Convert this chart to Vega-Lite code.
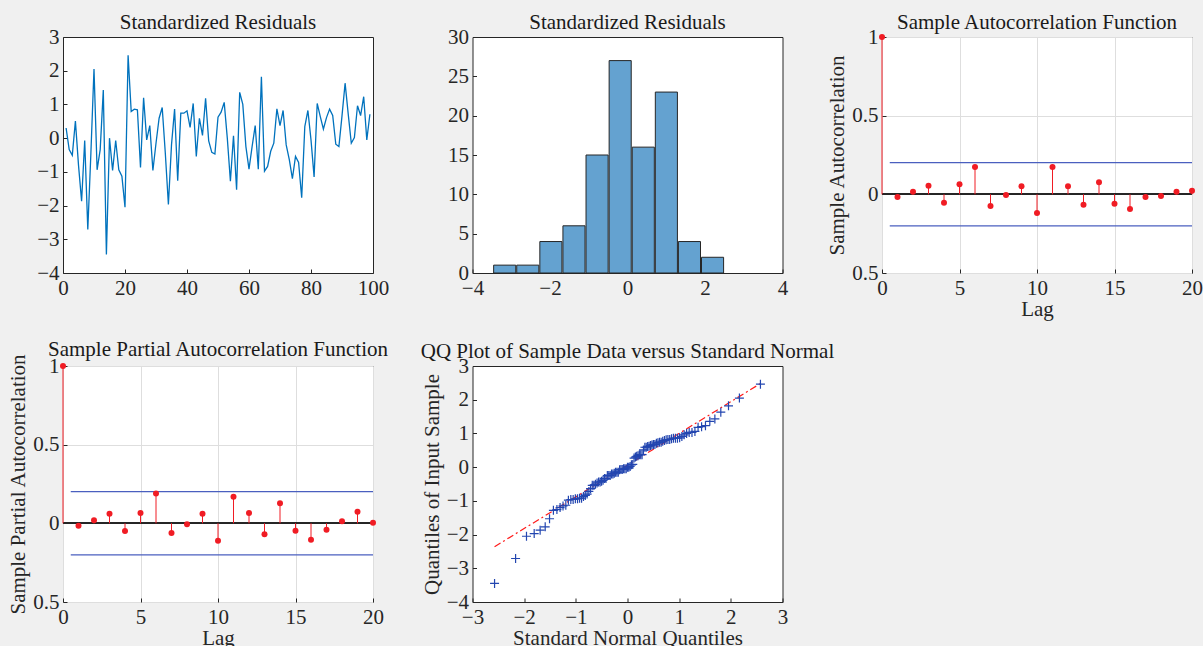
{
  "$schema": "https://vega.github.io/schema/vega-lite/v6.json",
  "background": "#f0f0f0",
  "padding": {"left": 7, "top": 11, "right": 0, "bottom": 0},
  "datasets": {
    "res": [
      {"t":1,"v":0.30},{"t":2,"v":-0.34},{"t":3,"v":-0.51},{"t":4,"v":0.51},{"t":5,"v":-0.80},
      {"t":6,"v":-1.87},{"t":7,"v":-0.07},{"t":8,"v":-2.71},{"t":9,"v":-0.44},{"t":10,"v":2.05},
      {"t":11,"v":-0.94},{"t":12,"v":-0.34},{"t":13,"v":1.43},{"t":14,"v":-3.45},{"t":15,"v":0.00},
      {"t":16,"v":-0.96},{"t":17,"v":-0.07},{"t":18,"v":-0.94},{"t":19,"v":-1.13},{"t":20,"v":-2.05},
      {"t":21,"v":2.46},{"t":22,"v":0.79},{"t":23,"v":0.86},{"t":24,"v":0.84},{"t":25,"v":-0.87},
      {"t":26,"v":1.20},{"t":27,"v":-0.05},{"t":28,"v":0.37},{"t":29,"v":-0.96},{"t":30,"v":-0.15},
      {"t":31,"v":0.59},{"t":32,"v":0.91},{"t":33,"v":-0.44},{"t":34,"v":-1.97},{"t":35,"v":-0.20},
      {"t":36,"v":0.86},{"t":37,"v":-1.26},{"t":38,"v":0.74},{"t":39,"v":0.74},{"t":40,"v":0.81},
      {"t":41,"v":0.32},{"t":42,"v":1.03},{"t":43,"v":-0.54},{"t":44,"v":0.59},{"t":45,"v":0.08},
      {"t":46,"v":1.18},{"t":47,"v":-0.08},{"t":48,"v":-0.42},{"t":49,"v":-0.47},{"t":50,"v":0.62},
      {"t":51,"v":0.77},{"t":52,"v":1.06},{"t":53,"v":0.00},{"t":54,"v":-1.28},{"t":55,"v":0.07},
      {"t":56,"v":-1.53},{"t":57,"v":1.36},{"t":58,"v":1.00},{"t":59,"v":-0.25},{"t":60,"v":-0.92},
      {"t":61,"v":-0.25},{"t":62,"v":0.37},{"t":63,"v":-0.92},{"t":64,"v":1.82},{"t":65,"v":-0.98},
      {"t":66,"v":-0.84},{"t":67,"v":-0.39},{"t":68,"v":-0.15},{"t":69,"v":0.87},{"t":70,"v":0.37},
      {"t":71,"v":0.82},{"t":72,"v":-0.20},{"t":73,"v":-0.64},{"t":74,"v":-1.20},{"t":75,"v":-0.54},
      {"t":76,"v":-0.72},{"t":77,"v":-1.77},{"t":78,"v":0.34},{"t":79,"v":0.82},{"t":80,"v":-0.05},
      {"t":81,"v":-1.15},{"t":82,"v":1.03},{"t":83,"v":0.64},{"t":84,"v":0.27},{"t":85,"v":0.61},
      {"t":86,"v":0.86},{"t":87,"v":0.67},{"t":88,"v":-0.18},{"t":89,"v":-0.25},{"t":90,"v":0.66},
      {"t":91,"v":1.63},{"t":92,"v":0.72},{"t":93,"v":-0.15},{"t":94,"v":0.02},{"t":95,"v":0.96},
      {"t":96,"v":0.67},{"t":97,"v":1.23},{"t":98,"v":-0.05},{"t":99,"v":0.71}
    ],
    "acf": [
      {"lag":0,"r":1},{"lag":1,"r":-0.017},{"lag":2,"r":0.017},{"lag":3,"r":0.055},{"lag":4,"r":-0.053},
      {"lag":5,"r":0.064},{"lag":6,"r":0.174},{"lag":7,"r":-0.074},{"lag":8,"r":-0.004},{"lag":9,"r":0.051},
      {"lag":10,"r":-0.119},{"lag":11,"r":0.174},{"lag":12,"r":0.051},{"lag":13,"r":-0.066},{"lag":14,"r":0.077},
      {"lag":15,"r":-0.06},{"lag":16,"r":-0.094},{"lag":17,"r":-0.017},{"lag":18,"r":-0.011},{"lag":19,"r":0.017},
      {"lag":20,"r":0.023}
    ],
    "pacf": [
      {"lag":0,"r":1},{"lag":1,"r":-0.015},{"lag":2,"r":0.019},{"lag":3,"r":0.061},{"lag":4,"r":-0.049},
      {"lag":5,"r":0.066},{"lag":6,"r":0.189},{"lag":7,"r":-0.061},{"lag":8,"r":-0.006},{"lag":9,"r":0.061},
      {"lag":10,"r":-0.110},{"lag":11,"r":0.169},{"lag":12,"r":0.066},{"lag":13,"r":-0.070},{"lag":14,"r":0.127},
      {"lag":15,"r":-0.047},{"lag":16,"r":-0.104},{"lag":17,"r":-0.040},{"lag":18,"r":0.013},{"lag":19,"r":0.074},
      {"lag":20,"r":0.004}
    ],
    "bounds": [
      {"x0":0.5,"x1":20,"b":0.201},{"x0":0.5,"x1":20,"b":-0.201}
    ],
    "qq": [
      {"q":-2.573,"s":-3.45},{"q":-2.166,"s":-2.71},{"q":-1.955,"s":-2.05},{"q":-1.806,"s":-1.97},{"q":-1.691,"s":-1.87},
      {"q":-1.593,"s":-1.77},{"q":-1.509,"s":-1.53},{"q":-1.434,"s":-1.28},{"q":-1.366,"s":-1.26},{"q":-1.305,"s":-1.20},
      {"q":-1.248,"s":-1.15},{"q":-1.194,"s":-1.13},{"q":-1.144,"s":-0.98},{"q":-1.097,"s":-0.96},{"q":-1.052,"s":-0.96},
      {"q":-1.009,"s":-0.94},{"q":-0.967,"s":-0.94},{"q":-0.928,"s":-0.92},{"q":-0.889,"s":-0.92},{"q":-0.852,"s":-0.87},
      {"q":-0.817,"s":-0.84},{"q":-0.782,"s":-0.80},{"q":-0.748,"s":-0.72},{"q":-0.715,"s":-0.64},{"q":-0.682,"s":-0.54},
      {"q":-0.651,"s":-0.54},{"q":-0.620,"s":-0.51},{"q":-0.589,"s":-0.47},{"q":-0.559,"s":-0.44},{"q":-0.530,"s":-0.44},
      {"q":-0.501,"s":-0.42},{"q":-0.473,"s":-0.39},{"q":-0.445,"s":-0.34},{"q":-0.417,"s":-0.34},{"q":-0.390,"s":-0.25},
      {"q":-0.362,"s":-0.25},{"q":-0.336,"s":-0.25},{"q":-0.309,"s":-0.20},{"q":-0.282,"s":-0.20},{"q":-0.256,"s":-0.18},
      {"q":-0.230,"s":-0.15},{"q":-0.204,"s":-0.15},{"q":-0.178,"s":-0.15},{"q":-0.153,"s":-0.08},{"q":-0.127,"s":-0.07},
      {"q":-0.102,"s":-0.07},{"q":-0.076,"s":-0.05},{"q":-0.051,"s":-0.05},{"q":-0.025,"s":-0.05},{"q":0.0,"s":0.00},
      {"q":0.025,"s":0.00},{"q":0.051,"s":0.02},{"q":0.076,"s":0.07},{"q":0.102,"s":0.08},{"q":0.127,"s":0.27},
      {"q":0.153,"s":0.30},{"q":0.178,"s":0.32},{"q":0.204,"s":0.34},{"q":0.230,"s":0.37},{"q":0.256,"s":0.37},
      {"q":0.282,"s":0.37},{"q":0.309,"s":0.51},{"q":0.336,"s":0.59},{"q":0.362,"s":0.59},{"q":0.390,"s":0.61},
      {"q":0.417,"s":0.62},{"q":0.445,"s":0.64},{"q":0.473,"s":0.66},{"q":0.501,"s":0.67},{"q":0.530,"s":0.67},
      {"q":0.559,"s":0.71},{"q":0.589,"s":0.72},{"q":0.620,"s":0.74},{"q":0.651,"s":0.74},{"q":0.682,"s":0.77},
      {"q":0.715,"s":0.79},{"q":0.748,"s":0.81},{"q":0.782,"s":0.82},{"q":0.817,"s":0.82},{"q":0.852,"s":0.84},
      {"q":0.889,"s":0.86},{"q":0.928,"s":0.86},{"q":0.967,"s":0.86},{"q":1.009,"s":0.87},{"q":1.052,"s":0.91},
      {"q":1.097,"s":0.96},{"q":1.144,"s":1.00},{"q":1.194,"s":1.03},{"q":1.248,"s":1.03},{"q":1.305,"s":1.06},
      {"q":1.366,"s":1.18},{"q":1.434,"s":1.20},{"q":1.509,"s":1.23},{"q":1.593,"s":1.36},{"q":1.691,"s":1.43},
      {"q":1.806,"s":1.63},{"q":1.955,"s":1.82},{"q":2.166,"s":2.05},{"q":2.573,"s":2.46}
    ],
    "qqline": [
      {"q":-2.573,"s":-2.36},{"q":2.573,"s":2.48}
    ]
  },
  "columns": 3,
  "spacing": {"row": 93, "column": 99.5},
  "bounds": "flush",
  "align": "all",
  "concat": [
    {
      "width": 310, "height": 236,
      "title": "Standardized Residuals",
      "data": {"name": "res"},
      "mark": {"type": "line", "color": "#0072BD", "strokeWidth": 1.3},
      "encoding": {
        "x": {"field": "t", "type": "quantitative", "scale": {"domain": [0, 100], "nice": false}, "axis": {"values": [0,20,40,60,80,100], "title": null}},
        "y": {"field": "v", "type": "quantitative", "scale": {"domain": [-4, 3], "nice": false}, "axis": {"values": [-4,-3,-2,-1,0,1,2,3], "title": null}}
      }
    },
    {
      "width": 310, "height": 236,
      "title": "Standardized Residuals",
      "data": {"name": "res"},
      "transform": [
        {"bin": {"extent": [-3.48, 2.48], "step": 0.596, "nice": false}, "field": "v", "as": ["b0", "b1"]},
        {"aggregate": [{"op": "count", "as": "n"}], "groupby": ["b0", "b1"]}
      ],
      "mark": {"type": "bar", "color": "#64a2d0", "stroke": "#262626", "strokeWidth": 1},
      "encoding": {
        "x": {"field": "b0", "bin": "binned", "type": "quantitative", "scale": {"domain": [-4, 4], "nice": false}, "axis": {"values": [-4,-2,0,2,4], "title": null, "format": "~g"}},
        "x2": {"field": "b1"},
        "y": {"field": "n", "type": "quantitative", "scale": {"domain": [0, 30], "nice": false}, "axis": {"values": [0,5,10,15,20,25,30], "title": null}}
      }
    },
    {
      "width": 310, "height": 236,
      "title": "Sample Autocorrelation Function",
      "layer": [
        {
          "data": {"name": "acf"},
          "mark": {"type": "rule", "color": "#262626", "strokeWidth": 1},
          "encoding": {
            "y": {"datum": 0, "type": "quantitative", "scale": {"domain": [-0.5, 1], "nice": false},
                  "axis": {"values": [-0.5, 0, 0.5, 1], "grid": true, "gridColor": "#dedede", "title": "Sample Autocorrelation", "labelExpr": "datum.value == -0.5 ? '0.5' : format(datum.value, '~g')"}}
          }
        },
        {
          "data": {"name": "bounds"},
          "mark": {"type": "rule", "color": "#4a5fbf", "strokeWidth": 1.2},
          "encoding": {
            "x": {"field": "x0", "type": "quantitative"},
            "x2": {"field": "x1"},
            "y": {"field": "b", "type": "quantitative"}
          }
        },
        {
          "data": {"name": "acf"},
          "mark": {"type": "rule", "color": "#f01c24", "strokeWidth": 1},
          "encoding": {
            "x": {"field": "lag", "type": "quantitative", "scale": {"domain": [0, 20], "nice": false},
                  "axis": {"values": [0,5,10,15,20], "grid": true, "gridColor": "#dedede", "title": "Lag"}},
            "y": {"field": "r", "type": "quantitative"},
            "y2": {"datum": 0}
          }
        },
        {
          "data": {"name": "acf"},
          "mark": {"type": "point", "shape": "circle", "filled": true, "color": "#f01c24", "size": 36, "opacity": 1},
          "encoding": {
            "x": {"field": "lag", "type": "quantitative"},
            "y": {"field": "r", "type": "quantitative"}
          }
        }
      ]
    },
    {
      "width": 310, "height": 236,
      "title": "Sample Partial Autocorrelation Function",
      "layer": [
        {
          "data": {"name": "pacf"},
          "mark": {"type": "rule", "color": "#262626", "strokeWidth": 1},
          "encoding": {
            "y": {"datum": 0, "type": "quantitative", "scale": {"domain": [-0.5, 1], "nice": false},
                  "axis": {"values": [-0.5, 0, 0.5, 1], "grid": true, "gridColor": "#dedede", "title": "Sample Partial Autocorrelation", "labelExpr": "datum.value == -0.5 ? '0.5' : format(datum.value, '~g')"}}
          }
        },
        {
          "data": {"name": "bounds"},
          "mark": {"type": "rule", "color": "#4a5fbf", "strokeWidth": 1.2},
          "encoding": {
            "x": {"field": "x0", "type": "quantitative"},
            "x2": {"field": "x1"},
            "y": {"field": "b", "type": "quantitative"}
          }
        },
        {
          "data": {"name": "pacf"},
          "mark": {"type": "rule", "color": "#f01c24", "strokeWidth": 1},
          "encoding": {
            "x": {"field": "lag", "type": "quantitative", "scale": {"domain": [0, 20], "nice": false},
                  "axis": {"values": [0,5,10,15,20], "grid": true, "gridColor": "#dedede", "title": "Lag"}},
            "y": {"field": "r", "type": "quantitative"},
            "y2": {"datum": 0}
          }
        },
        {
          "data": {"name": "pacf"},
          "mark": {"type": "point", "shape": "circle", "filled": true, "color": "#f01c24", "size": 36, "opacity": 1},
          "encoding": {
            "x": {"field": "lag", "type": "quantitative"},
            "y": {"field": "r", "type": "quantitative"}
          }
        }
      ]
    },
    {
      "width": 310, "height": 236,
      "title": "QQ Plot of Sample Data versus Standard Normal",
      "encoding": {
        "x": {"field": "q", "type": "quantitative", "scale": {"domain": [-3, 3], "nice": false},
              "axis": {"values": [-3,-2,-1,0,1,2,3], "title": "Standard Normal Quantiles"}},
        "y": {"field": "s", "type": "quantitative", "scale": {"domain": [-4, 3], "nice": false},
              "axis": {"values": [-4,-3,-2,-1,0,1,2,3], "title": "Quantiles of Input Sample"}}
      },
      "layer": [
        {
          "data": {"name": "qqline"},
          "mark": {"type": "line", "color": "#ff1a1a", "strokeWidth": 1.2, "strokeDash": [7, 3, 2, 3]}
        },
        {
          "data": {"name": "qq"},
          "mark": {"type": "point", "shape": "M-1,0L1,0M0,-1L0,1", "filled": false, "color": "#2346b0", "size": 81, "strokeWidth": 1.2, "opacity": 1}
        }
      ]
    }
  ],
  "config": {
    "font": "Liberation Serif",
    "view": {"fill": "white", "stroke": "#262626", "strokeWidth": 1},
    "axis": {
      "labelFont": "Liberation Serif", "labelFontSize": 21, "labelColor": "#262626",
      "titleFont": "Liberation Serif", "titleFontSize": 21, "titleFontWeight": "normal", "titleColor": "#262626",
      "domain": false, "grid": false, "tickColor": "#262626", "tickSize": -4, "labelPadding": 8, "titlePadding": 0,
      "labelFlush": false, "labelOverlap": false
    },
    "axisY": {"titlePadding": 4},
    "title": {"font": "Liberation Serif", "fontSize": 21, "fontWeight": "normal", "color": "#1a1a1a", "offset": -7, "frame": "group"}
  }
}
